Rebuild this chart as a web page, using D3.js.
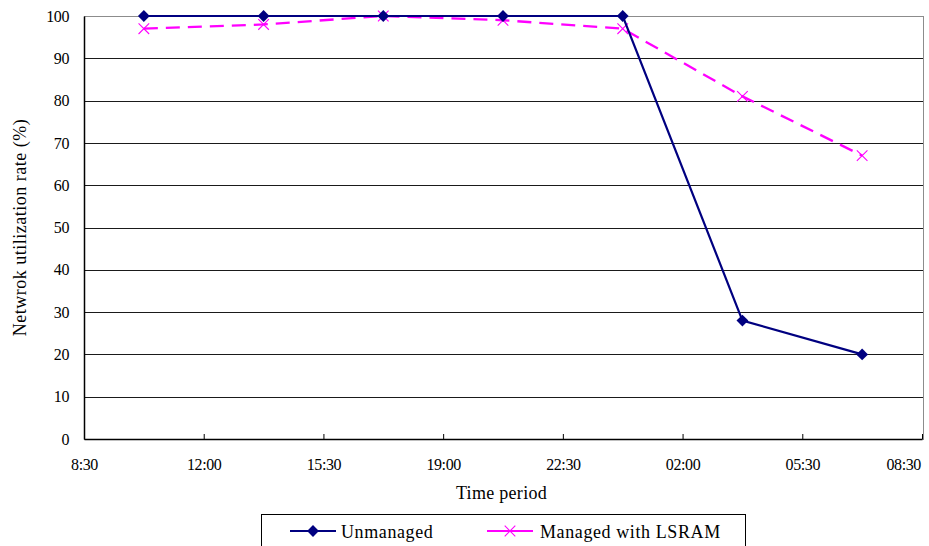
<!DOCTYPE html>
<html>
<head>
<meta charset="utf-8">
<script src="https://cdn.jsdelivr.net/npm/d3@7"></script>
<style>
  body { margin: 0; background: #fff; }
</style>
</head>
<body>
<div id="chart"></div>
<script>
// tick labels along the time axis (evenly spaced, 3.5 h apart)
var timeTicks = ["8:30", "12:00", "15:30", "19:00", "22:30", "02:00", "05:30", "08:30"];
// samples sit halfway between ticks
var sampleTimes = ["10:15", "13:45", "17:15", "20:45", "00:15", "03:45", "07:15"];
var unmanaged = [100, 100, 100, 100, 100, 28, 20];
var managed = [97, 98, 100, 99, 97, 81, 67];
var yTicks = [0, 10, 20, 30, 40, 50, 60, 70, 80, 90, 100];

var FONT = "Liberation Serif, Times New Roman, serif";
var width = 929, height = 546;
var margin = {top: 16, right: 6, bottom: 107, left: 84};
var w = width - margin.left - margin.right;
var h = height - margin.top - margin.bottom;

var svg = d3.select("#chart")
            .append("svg")
              .attr("width", width)
              .attr("height", height);
var g = svg.append("g")
            .attr("transform", "translate(" + margin.left + "," + margin.top + ")");

// x: tick index space, points at i + 0.5
var x = d3.scaleLinear().domain([0, timeTicks.length - 1]).range([0, w - 1]);
var y = d3.scaleLinear().domain([0, 100]).range([h, 0]);

// plot frame (top / right grey)
g.append("rect")
    .attr("x", 0).attr("y", 0)
    .attr("width", w).attr("height", h)
    .attr("fill", "none")
    .attr("stroke", "#8c8c8c")
    .attr("shape-rendering", "crispEdges");

// horizontal gridlines
g.selectAll(".grid")
    .data(yTicks.filter(function(d) { return d > 0 && d < 100; }))
    .enter().append("line")
      .attr("x1", 0).attr("x2", w)
      .attr("y1", function(d) { return Math.round(y(d)) + 0.5; })
      .attr("y2", function(d) { return Math.round(y(d)) + 0.5; })
      .attr("stroke", "#1a1a1a")
      .attr("stroke-width", 1);

// y axis
var yAxis = g.append("g")
    .call(d3.axisLeft(y).tickValues(yTicks).tickSize(0).tickPadding(15));
yAxis.select(".domain").attr("stroke", "#000").attr("stroke-width", 1.5);
yAxis.selectAll("text")
    .attr("font-family", FONT)
    .attr("font-size", "16px")
    .attr("letter-spacing", "-0.4px")
    .attr("fill", "#000");

// x axis with small inward ticks
var xAxis = g.append("g")
    .attr("transform", "translate(0," + h + ")")
    .call(d3.axisBottom(x)
            .tickValues(d3.range(timeTicks.length))
            .tickFormat(function(d, i) { return timeTicks[i]; })
            .tickSize(-5).tickSizeOuter(0).tickPadding(20));
xAxis.select(".domain").attr("stroke", "#000").attr("stroke-width", 1.5);
xAxis.selectAll("line").attr("stroke", "#000");
xAxis.selectAll("text")
    .attr("font-family", FONT)
    .attr("font-size", "16px")
    .attr("letter-spacing", "-0.4px")
    .attr("fill", "#000");
xAxis.selectAll(".tick").filter(function(d, i) { return i === timeTicks.length - 1; })
    .select("text").attr("text-anchor", "end").attr("dx", "-0.1em");

// axis titles
svg.append("text")
    .attr("x", margin.left + w / 2 - 2)
    .attr("y", 499)
    .attr("text-anchor", "middle")
    .attr("font-family", FONT)
    .attr("font-size", "18px")
    .attr("letter-spacing", "0.3px")
    .text("Time period");

svg.append("text")
    .attr("transform", "translate(26," + (margin.top + h / 2) + ") rotate(-90)")
    .attr("text-anchor", "middle")
    .attr("font-family", FONT)
    .attr("font-size", "18px")
    .attr("letter-spacing", "0.5px")
    .text("Netwrok utilization rate (%)");

var line = d3.line()
    .x(function(d, i) { return x(i + 0.5); })
    .y(function(d) { return y(d); });

// managed series (dashed magenta, X markers)
g.append("path")
    .datum(managed)
    .attr("d", line)
    .attr("fill", "none")
    .attr("stroke", "#ff00ff")
    .attr("stroke-width", 2.3)
    .attr("stroke-dasharray", "14,8");

var cross = d3.symbol().type(d3.symbolX).size(75);
g.selectAll(".mk-managed")
    .data(managed)
    .enter().append("path")
      .attr("transform", function(d, i) { return "translate(" + x(i + 0.5) + "," + y(d) + ")"; })
      .attr("d", cross)
      .attr("fill", "none")
      .attr("stroke", "#ff00ff")
      .attr("stroke-width", 1.1);

// unmanaged series (solid navy, diamonds)
g.append("path")
    .datum(unmanaged)
    .attr("d", line)
    .attr("fill", "none")
    .attr("stroke", "#000080")
    .attr("stroke-width", 2.2);

var diamond = d3.symbol().type(d3.symbolSquare).size(70);
g.selectAll(".mk-unmanaged")
    .data(unmanaged)
    .enter().append("path")
      .attr("transform", function(d, i) { return "translate(" + x(i + 0.5) + "," + y(d) + ") rotate(45)"; })
      .attr("d", diamond)
      .attr("fill", "#000080");

// legend
var legend = svg.append("g").attr("transform", "translate(261,514)");
legend.append("rect")
    .attr("x", 0.5).attr("y", 0.5)
    .attr("width", 484).attr("height", 40)
    .attr("fill", "#fff")
    .attr("stroke", "#000");

legend.append("line")
    .attr("x1", 29).attr("x2", 75).attr("y1", 17).attr("y2", 17)
    .attr("stroke", "#000080").attr("stroke-width", 2.2);
legend.append("path")
    .attr("transform", "translate(52,17) rotate(45)")
    .attr("d", diamond)
    .attr("fill", "#000080");
legend.append("text")
    .attr("x", 80).attr("y", 24)
    .attr("font-family", FONT)
    .attr("font-size", "18px")
    .attr("letter-spacing", "0.6px")
    .text("Unmanaged");

legend.append("line")
    .attr("x1", 226).attr("x2", 272).attr("y1", 17).attr("y2", 17)
    .attr("stroke", "#ff00ff").attr("stroke-width", 2.2);
legend.append("path")
    .attr("transform", "translate(249,17)")
    .attr("d", cross)
    .attr("fill", "none")
    .attr("stroke", "#ff00ff")
    .attr("stroke-width", 1.1);
legend.append("text")
    .attr("x", 279).attr("y", 24)
    .attr("font-family", FONT)
    .attr("font-size", "18px")
    .attr("letter-spacing", "0.6px")
    .text("Managed with LSRAM");
</script>
</body>
</html>
